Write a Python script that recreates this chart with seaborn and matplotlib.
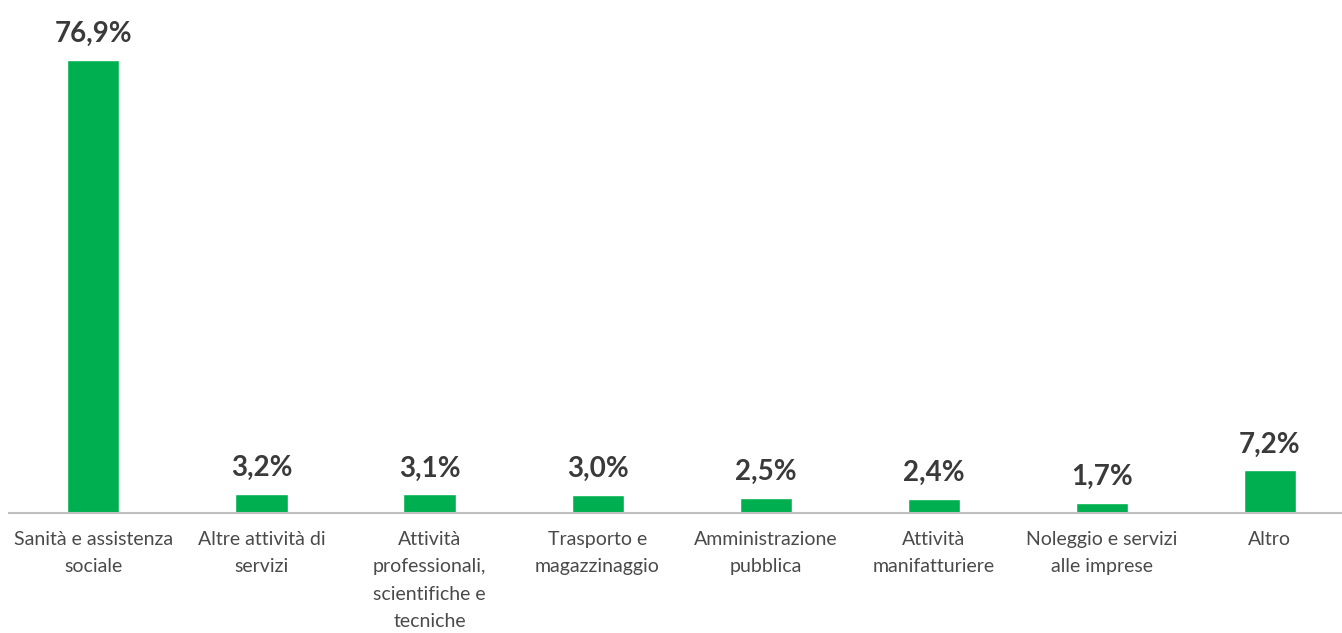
import matplotlib
matplotlib.use("Agg")
import matplotlib.pyplot as plt
import seaborn as sns
import pandas as pd

# data
categories = [
    "Sanità e assistenza\nsociale",
    "Altre attività di\nservizi",
    "Attività\nprofessionali,\nscientifiche e\ntecniche",
    "Trasporto e\nmagazzinaggio",
    "Amministrazione\npubblica",
    "Attività\nmanifatturiere",
    "Noleggio e servizi\nalle imprese",
    "Altro",
]
values = [76.9, 3.2, 3.1, 3.0, 2.5, 2.4, 1.7, 7.2]

df = pd.DataFrame({"cat": categories, "val": values})

sns.set_theme(style="white")
plt.rcParams["font.family"] = ["Lato", "DejaVu Sans"]

fig = plt.figure(figsize=(13.42, 6.33), dpi=100, facecolor="white")
ax = fig.add_axes([0.007, 0.19, 0.993, 0.81])

sns.barplot(data=df, x="cat", y="val", color="#00B050", width=0.31,
            saturation=1, ax=ax)

# value labels
for i, v in enumerate(values):
    ax.text(i, v + 2.2, f"{v:.1f}%".replace(".", ","), ha="center", va="bottom",
            fontsize=20, color="#3a3a3a", fontweight="bold")

ax.set_ylim(0, 87.1)
ax.set_xlim(-0.5, 7.43)
ax.set_xlabel("")
ax.set_ylabel("")
ax.set_yticks([])
for s in ["top", "right", "left"]:
    ax.spines[s].set_visible(False)
ax.spines["bottom"].set_color("#BFBFBF")
ax.spines["bottom"].set_linewidth(1.5)
ax.tick_params(axis="x", length=0, pad=13, labelsize=14, labelcolor="#4a4a4a")
for lab in ax.get_xticklabels():
    lab.set_linespacing(1.75)
    lab.set_va("top")

fig.savefig("out.png", dpi=100, facecolor="white")
